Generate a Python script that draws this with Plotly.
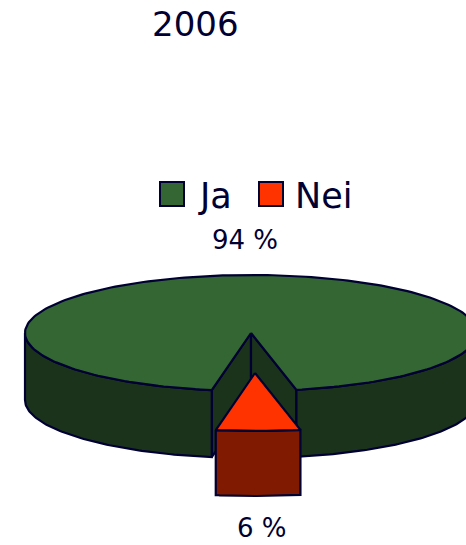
import numpy as np
import plotly.graph_objects as go

title = "2006"
categories = ["Ja", "Nei"]
values = [94, 6]
top_colors = ["#336633", "#FF3300"]
wall_colors = ["#1B331B", "#801A00"]
outline = "#000033"
text_color = "#000033"
font = "DejaVu Sans"

W, H = 466, 545
cx, cy, a, b, depth = 251, 333, 226, 58, 67
dx, dy = 4, 40
start_deg = -10.0


def rim(p0, p1, ox=0, oy=0, n=90):
    t = np.radians(np.linspace(p0, p1, n))
    return cx + ox + a * np.sin(t), cy + oy + b * np.cos(t)


def wall(p0, p1, ox=0, oy=0, d=None):
    d = depth if d is None else d
    x, y = rim(p0, p1, ox, oy)
    return np.r_[x, x[::-1], x[0]], np.r_[y, y[::-1] + d, y[0]]


def top(p0, p1, ox=0, oy=0):
    x, y = rim(p0, p1, ox, oy, 240)
    return np.r_[cx + ox, x, cx + ox], np.r_[cy + oy, y, cy + oy]


def inner(p, ox=0, oy=0):
    x, y = rim(p, p, ox, oy, 1)
    px = [cx + ox, x[0], x[0], cx + ox, cx + ox]
    py = [cy + oy, y[0], y[0] + depth, cy + oy + depth, cy + oy]
    return px, py


fig = go.Figure()


def add(xy, color, name, width=2.2):
    fig.add_trace(go.Scatter(
        x=xy[0], y=xy[1], mode="lines", fill="toself", fillcolor=color,
        line=dict(color=outline, width=width), name=name,
        hoverinfo="name", showlegend=False,
    ))


sweep = values[1] / sum(values) * 360
s0, s1 = start_deg, start_deg + sweep

# main slice: notch walls, outer walls, top
add(inner(s0), wall_colors[0], categories[0])
add(inner(s1), wall_colors[0], categories[0])
add(wall(-90, s0), wall_colors[0], categories[0])
add(wall(s1, 90), wall_colors[0], categories[0])
add(top(s1, 360 + s0), top_colors[0], categories[0])

# exploded slice
add(wall(s0, s1, dx, dy, 65), wall_colors[1], categories[1])
add(top(s0, s1, dx, dy), top_colors[1], categories[1])

annotations = [
    dict(x=195, y=24, text=title, font=dict(size=34)),
    dict(x=245, y=240, text=f"{values[0]} %", font=dict(size=26)),
    dict(x=262, y=528, text=f"{values[1]} %", font=dict(size=26)),
    dict(x=196, y=196, text=categories[0], xanchor="left", font=dict(size=35)),
    dict(x=293, y=196, text=categories[1], xanchor="left", font=dict(size=35)),
]
for ann in annotations:
    ann.update(xref="x", yref="y", showarrow=False)
    ann.setdefault("xanchor", "center")
    ann["font"].update(family=font, color=text_color)

shapes = [
    dict(type="rect", xref="x", yref="y", x0=x0, x1=x0 + 24, y0=182, y1=206,
         fillcolor=c, line=dict(color=outline, width=2))
    for x0, c in zip([160, 259], top_colors)
]

fig.update_layout(
    width=W, height=H, margin=dict(l=0, r=0, t=0, b=0),
    paper_bgcolor="white", plot_bgcolor="white", showlegend=False,
    xaxis=dict(range=[0, W], visible=False, fixedrange=True),
    yaxis=dict(range=[H, 0], visible=False, fixedrange=True),
    annotations=annotations, shapes=shapes,
)
fig.write_html("out.html", config={"displayModeBar": False},
               post_script="document.body.style.margin='0';")
